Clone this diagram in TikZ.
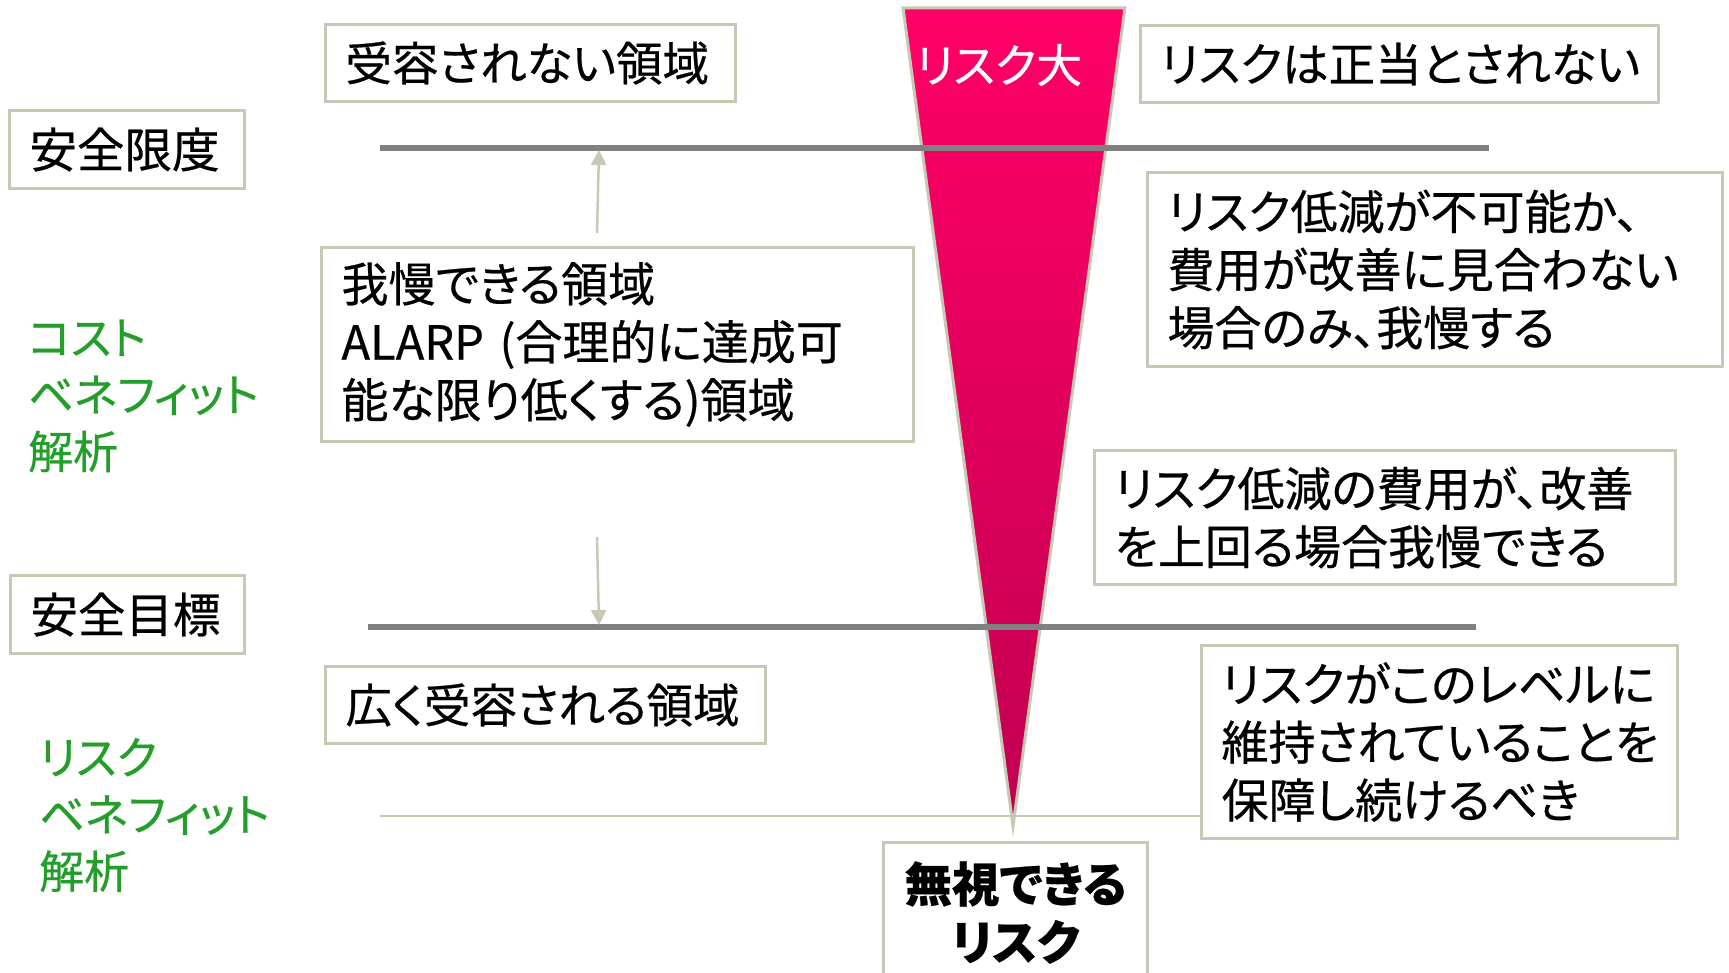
\documentclass[tikz,border=0pt]{standalone}
\usepackage{fontspec}
\setmainfont{Noto Sans CJK JP}[RawFeature={+palt}, FakeBold=0.5]
\usetikzlibrary{arrows.meta}
\definecolor{boxc}{RGB}{200,200,180}
\definecolor{lvl}{RGB}{128,128,128}
\definecolor{grn}{RGB}{36,158,42}
\definecolor{pinktop}{RGB}{255,0,102}
\definecolor{pinkbot}{RGB}{192,0,80}
\tikzset{
  tbox/.style={draw=boxc, line width=3pt, fill=white, inner xsep=20pt, inner ysep=0pt,
     anchor=north west, align=left, font=\fontsize{46.5}{58}\selectfont},
  mbox/.style={tbox, font=\fontsize{47}{58}\selectfont},
  level/.style={draw=lvl, line width=6pt},
  thin/.style={draw=boxc, line width=2.5pt},
  uparrow/.style={draw=boxc, line width=2.5pt, -{Triangle[width=15pt,length=15pt]}},
  glabel/.style={text=grn, anchor=west, align=left, inner sep=0pt, font=\fontsize{45}{57}\selectfont}
}
\begin{document}
\begin{tikzpicture}[x=1pt,y=-1pt]
\useasboundingbox (0,0) rectangle (1729,973);

% funnel
\coordinate (tl) at (903,8);
\coordinate (tr) at (1125,8);
\coordinate (apex) at (1013,826);
\shade[top color=pinktop, bottom color=pinkbot, draw=boxc, line width=3pt] (tl) -- (tr) -- (apex) -- cycle;
\node[text=white, font=\fontsize{46}{50}\selectfont, inner sep=0pt] (big) at (999,65) {リスク大};

% level lines
\coordinate (l1a) at (380,148); \coordinate (l1b) at (1489,148);
\coordinate (l2a) at (368,627); \coordinate (l2b) at (1476,627);
\draw[level] (l1a) -- (l1b);
\draw[level] (l2a) -- (l2b);

% boxes
\node[tbox, text width=370pt, minimum height=77pt] (unacc) at (324,23) {受容されない領域};
\node[tbox, text width=195pt, minimum height=78pt, font=\fontsize{47.5}{57}\selectfont] (limit) at (8,109) {安全限度};
\node[tbox, text width=478pt, minimum height=77pt] (notjust) at (1139,24) {リスクは正当とされない};
\node[mbox, text width=552pt, minimum height=194pt] (alarp) at (320,246) {我慢できる領域\\ALARP (合理的に達成可\\能な限り低くする)領域};
\node[mbox, text width=535pt, minimum height=194pt] (imposs) at (1146,171) {リスク低減が不可能か、\\費用が改善に見合わない\\場合のみ、我慢する};
\node[mbox, text width=541pt, minimum height=134pt] (costex) at (1093,449) {リスク低減の費用が、改善\\を上回る場合我慢できる};
\node[tbox, text width=194pt, minimum height=78pt, font=\fontsize{47.5}{57}\selectfont] (target) at (9,574) {安全目標};
\node[tbox, text width=400pt, minimum height=77pt] (broad) at (324,665) {広く受容される領域};
\node[mbox, text width=436pt, minimum height=193pt] (maint) at (1200,644) {リスクがこのレベルに\\維持されていることを\\保障し続けるべき};
\node[tbox, text width=224pt, minimum height=140pt, align=center, font=\fontsize{47.5}{58}\selectfont\bfseries] (negl) at (882,841) {無視できる\\リスク};

% thin line to maintain box
\coordinate (l3a) at (380,816);
\draw[thin] (l3a) -- (l3a -| maint.west);

% arrows
\coordinate (upfrom) at (597,233);
\coordinate (upto) at (599,150);
\coordinate (dnfrom) at (597,537);
\coordinate (dnto) at (599,625);
\draw[uparrow] (upfrom) -- (upto);
\draw[uparrow] (dnfrom) -- (dnto);

% green labels
\node[glabel] (cba) at (28,396) {コスト\\ベネフィット\\解析};
\node[glabel] (rba) at (39,815) {リスク\\ベネフィット\\解析};
\end{tikzpicture}
\end{document}
